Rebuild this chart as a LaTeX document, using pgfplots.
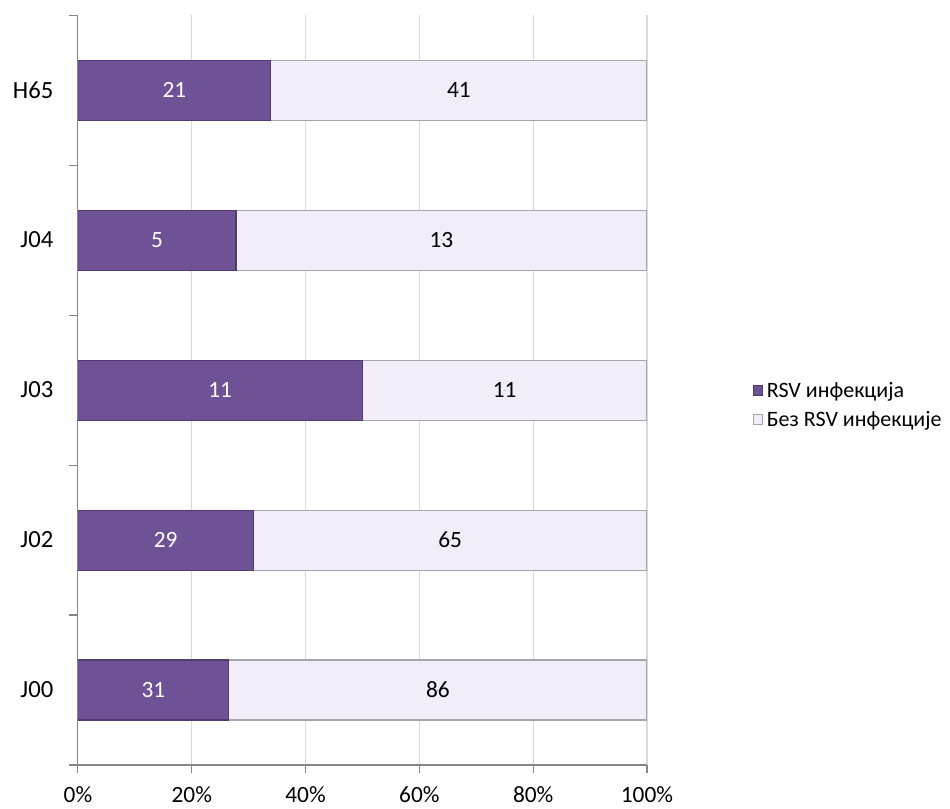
\documentclass[border=0pt]{standalone}
\usepackage{fontspec}
\setmainfont{Carlito}
\usepackage{pgfplots}
\pgfplotsset{compat=1.18}
\usepackage{pgfplotstable}

\definecolor{rsvdark}{RGB}{111,82,150}
\definecolor{rsvdarkedge}{RGB}{80,58,112}
\definecolor{rsvlight}{RGB}{242,237,249}
\definecolor{rsvlightedge}{RGB}{165,165,170}
\definecolor{gridgray}{RGB}{217,217,217}
\definecolor{axisgray}{RGB}{134,134,134}

% y: category position, p: share with RSV (%), n: count with RSV, m: count without
\pgfplotstableread{
y  p       n   mid     full  m   mid2
0  26.496  31  13.248  100   86  63.248
1  30.851  29  15.426  100   65  65.426
2  50.000  11  25.000  100   11  75.000
3  27.778  5   13.889  100   13  63.889
4  33.871  21  16.936  100   41  66.936
}\rsvdata

\begin{document}
\begin{tikzpicture}[font=\fontsize{16}{19}\selectfont]
\begin{axis}[
  width=427pt, height=562.8pt, scale only axis,
  xmin=0, xmax=100, ymin=-0.5, ymax=4.5,
  axis lines*=left,
  axis line style={axisgray, line width=0.8pt},
  xtick={0,20,...,100},
  xticklabel={\pgfmathprintnumber{\tick}\%},
  /pgf/number format/assume math mode=true,
  xmajorgrids, grid style={gridgray, line width=0.8pt},
  ytick={0,1,2,3,4},
  yticklabels={J00,J02,J03,J04,H65},
  minor ytick={-0.5,0.5,1.5,2.5,3.5,4.5},
  tick align=outside,
  major tick length=6pt, minor tick length=7pt,
  every major y tick/.style={draw=none},
  every tick/.style={axisgray, line width=0.8pt},
  tick label style={black},
  xticklabel style={yshift=-7pt, font=\fontsize{17.5}{20}\selectfont},
  yticklabel style={xshift=-9pt, font=\fontsize{18.5}{22}\selectfont},
  bar width=0.4,
  legend image code/.code={\draw[#1] (0pt,-3.5pt) rectangle (7pt,3.5pt);},
  legend style={at={(1.185,0.48)}, anchor=west, draw=none, fill=none,
    row sep=5pt, inner sep=0pt, font=\fontsize{16.5}{19}\selectfont,
    nodes={inner xsep=3pt}},
  legend cell align=left,
  reverse legend,
]
\addplot[xbar, fill=rsvlight, draw=rsvlightedge, line width=0.8pt]
  table[x=full, y=y] {\rsvdata};
\addlegendentry{Без RSV инфекције}
\addplot[xbar, fill=rsvdark, draw=rsvdarkedge, line width=0.8pt]
  table[x=p, y=y] {\rsvdata};
\addlegendentry{RSV инфекција}

\addplot[forget plot, only marks, mark=*, mark size=0.01pt,
  mark options={draw=none, fill=none},
  nodes near coords, point meta=explicit symbolic,
  nodes near coords style={anchor=center, text=white, font=\fontsize{17.5}{20}\selectfont}]
  table[x=mid, y=y, meta=n] {\rsvdata};
\addplot[forget plot, only marks, mark=*, mark size=0.01pt,
  mark options={draw=none, fill=none},
  nodes near coords, point meta=explicit symbolic,
  nodes near coords style={anchor=center, text=black, font=\fontsize{17.5}{20}\selectfont}]
  table[x=mid2, y=y, meta=m] {\rsvdata};

\coordinate (bl) at (rel axis cs:0,0);
\coordinate (tr) at (rel axis cs:1,1);
\end{axis}
% frame of the reference picture
\pgfresetboundingbox
\useasboundingbox ([xshift=-58.5pt, yshift=-32.5pt]bl) rectangle ([xshift=227.4pt, yshift=11.3pt]tr);
\end{tikzpicture}
\end{document}
